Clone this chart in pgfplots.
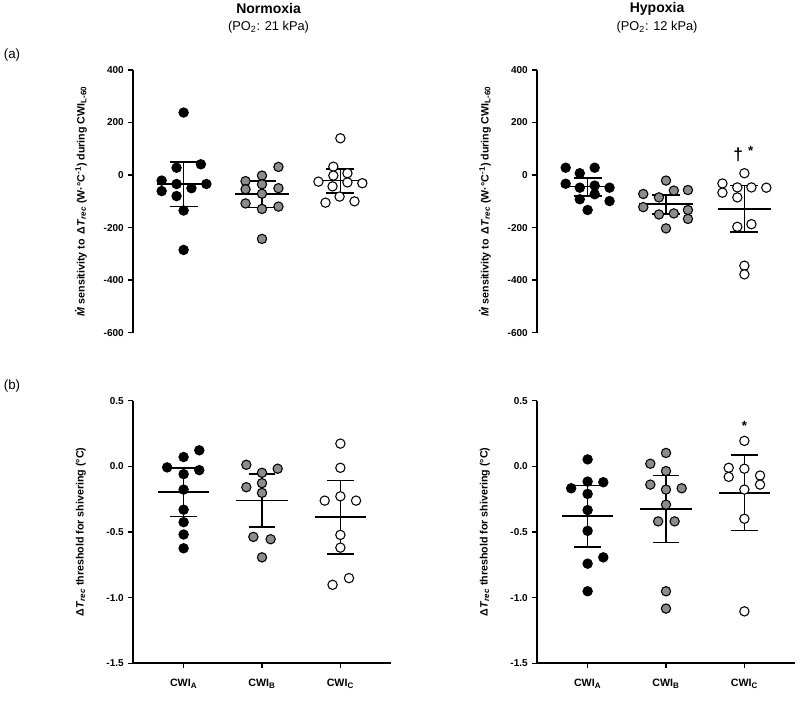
\documentclass[border=0pt]{standalone}
\usepackage{fontspec}
\setmainfont{Liberation Sans}
\usepackage{pgfplots}
\pgfplotsset{compat=1.18}

\newcommand{\Mdot}{\makebox[0pt][l]{\hspace{0.4em}\raisebox{0.74em}{.}}\textit{M}}

\pgfplotsset{
  panel/.style={
    scale only axis, width=194pt, height=197pt,
    xmin=0.35, xmax=3.65, enlargelimits=false, clip=false,
    axis y line*=left,
    axis line style={-, line width=1.5pt},
    tick style={line width=1.2pt, black},
    tick align=outside, major tick length=3.2pt,
    ticklabel style={font=\bfseries\fontsize{7.5}{8}\selectfont},
    every axis y label/.style={at={(axis description cs:-0.2,0.5)}, rotate=90, anchor=center,
      font=\bfseries\fontsize{8}{9}\selectfont},
  },
  toppanel/.style={panel, axis x line=none,
    ymin=-600, ymax=400, ytick={-600,-400,-200,0,200,400},
    yticklabels={-600,-400,-200,0,200,400},
    ylabel={\Mdot\ sensitivity to \,Δ\textit{T}\textsubscript{\textit{rec}} (W·°C\textsuperscript{-1}) during CWI\textsubscript{L-60}}},
  botpanel/.style={panel, axis x line*=bottom,
    ymin=-1.5, ymax=0.5, ytick={-1.5,-1,-0.5,0,0.5},
    yticklabels={-1.5,-1.0,-0.5,0.0,0.5},
    xtick={1,2,3}, xticklabels={CWI\textsubscript{A},CWI\textsubscript{B},CWI\textsubscript{C}},
    xticklabel style={yshift=-5pt, font=\bfseries\fontsize{8}{9}\selectfont},
    ylabel={Δ\textit{T}\textsubscript{\textit{rec}} threshold for shivering (°C)}},
  dblack/.style={only marks, mark=*, mark size=3.5pt, mark options={draw=black, fill=black, line width=0.8pt}},
  dgray/.style={only marks, mark=*, mark size=3.5pt, mark options={draw=black, fill=gray!90, line width=0.8pt}},
  dwhite/.style={only marks, mark=*, mark size=3.5pt, mark options={draw=black, fill=white, line width=0.8pt}},
  bars/.style={black, line width=1.3pt, no marks, unbounded coords=jump},
}

\begin{document}
\begin{tikzpicture}
\useasboundingbox (0,0) rectangle (600pt,-525.75pt);

% titles
\node[font=\bfseries\fontsize{10.5}{12}\selectfont] at (201.4pt,-6.5pt) {Normoxia};
\node[font=\fontsize{9.6}{11}\selectfont] at (201.4pt,-20.5pt) {(PO\textsubscript{2}: 21 kPa)};
\node[font=\bfseries\fontsize{10.5}{12}\selectfont] at (492.8pt,-6.5pt) {Hypoxia};
\node[font=\fontsize{9.6}{11}\selectfont] at (492.8pt,-20.5pt) {(PO\textsubscript{2}: 12 kPa)};
\node[font=\fontsize{10}{12}\selectfont] at (9pt,-41.3pt) {(a)};
\node[font=\fontsize{10}{12}\selectfont] at (9pt,-289.5pt) {(b)};

% (a) normoxia
\begin{axis}[toppanel, at={(99.5pt,-249.5pt)}, anchor=south west]
\addplot[dblack] coordinates {(1.00,238) (1.22,41) (0.91,28) (0.72,-21) (0.72,-61) (0.91,-34) (1.10,-50) (1.29,-34) (0.91,-80) (1.00,-135) (1.00,-285)};
\addplot[dgray] coordinates {(2.21,31) (2.00,-2) (1.79,-23) (2.00,-35) (1.79,-54) (2.21,-50) (2.00,-71) (1.79,-108) (2.21,-120) (2.00,-129) (2.00,-243)};
\addplot[dwhite] coordinates {(3.00,140) (2.91,32) (2.91,-2) (3.09,7) (2.72,-25) (2.90,-43) (3.09,-28) (3.28,-31) (2.99,-82) (2.81,-105) (3.18,-100)};
\addplot[bars] coordinates {
(0.66,-35) (1.34,-35) (1,nan) (0.82,50) (1.18,50) (1,nan) (0.82,-120) (1.18,-120) (1,nan) (1,50) (1,-120) (1,nan)
(1.66,-72) (2.34,-72) (2,nan) (1.82,-23) (2.18,-23) (2,nan) (1.82,-123) (2.18,-123) (2,nan) (2,-23) (2,-123) (2,nan)
(2.66,-21) (3.34,-21) (3,nan) (2.82,24) (3.18,24) (3,nan) (2.82,-67) (3.18,-67) (3,nan) (3,24) (3,-67)};
\end{axis}

% (a) hypoxia
\begin{axis}[toppanel, at={(402.5pt,-249.5pt)}, anchor=south west]
\addplot[dblack] coordinates {(0.72,28) (1.09,28) (0.90,7) (0.72,-33) (0.90,-48) (1.09,-40) (1.28,-48) (1.09,-73) (0.90,-92) (1.28,-99) (1.00,-133)};
\addplot[dgray] coordinates {(2.00,-21) (1.71,-72) (2.10,-59) (2.28,-57) (1.91,-85) (1.71,-122) (2.28,-133) (1.91,-150) (2.10,-146) (2.28,-167) (2.00,-203)};
\addplot[dwhite] coordinates {(3.00,7) (2.72,-32) (2.72,-67) (2.91,-47) (3.09,-47) (3.28,-48) (2.91,-85) (2.91,-197) (3.09,-187) (3.00,-345) (3.00,-378)};
\addplot[bars] coordinates {
(0.66,-44) (1.34,-44) (1,nan) (0.82,-11) (1.18,-11) (1,nan) (0.82,-80) (1.18,-80) (1,nan) (1,-11) (1,-80) (1,nan)
(1.66,-110) (2.34,-110) (2,nan) (1.82,-75) (2.18,-75) (2,nan) (1.82,-147) (2.18,-147) (2,nan) (2,-75) (2,-147) (2,nan)
(2.66,-129) (3.34,-129) (3,nan) (2.82,-40) (3.18,-40) (3,nan) (2.82,-218) (3.18,-218) (3,nan) (3,-40) (3,-218)};
\node[font=\bfseries\fontsize{13}{14}\selectfont] at (axis cs:2.92,76) {†};
\node[font=\bfseries\fontsize{10}{12}\selectfont] at (axis cs:3.08,92) {*};
\end{axis}

% (b) normoxia
\begin{axis}[botpanel, at={(99.5pt,-497.5pt)}, anchor=south west]
\addplot[dblack] coordinates {(1.20,0.122) (1.00,0.071) (0.79,-0.008) (1.20,-0.029) (1.00,-0.059) (1.00,-0.177) (1.00,-0.330) (1.00,-0.425) (1.00,-0.519) (1.00,-0.624)};
\addplot[dgray] coordinates {(1.80,0.012) (2.20,-0.018) (2.00,-0.049) (2.00,-0.128) (1.80,-0.159) (2.00,-0.202) (1.89,-0.537) (2.11,-0.555) (2.00,-0.693)};
\addplot[dwhite] coordinates {(3.00,0.173) (3.00,-0.011) (2.80,-0.261) (3.00,-0.228) (3.20,-0.261) (3.00,-0.522) (3.00,-0.619) (3.11,-0.851) (2.90,-0.902)};
\addplot[bars] coordinates {
(0.67,-0.197) (1.33,-0.197) (1,nan) (0.83,-0.011) (1.17,-0.011) (1,nan) (0.83,-0.381) (1.17,-0.381) (1,nan) (1,-0.011) (1,-0.381) (1,nan)
(1.67,-0.261) (2.33,-0.261) (2,nan) (1.83,-0.057) (2.17,-0.057) (2,nan) (1.83,-0.460) (2.17,-0.460) (2,nan) (2,-0.057) (2,-0.460) (2,nan)
(2.67,-0.386) (3.33,-0.386) (3,nan) (2.83,-0.108) (3.17,-0.108) (3,nan) (2.83,-0.665) (3.17,-0.665) (3,nan) (3,-0.108) (3,-0.665)};
\end{axis}

% (b) hypoxia
\begin{axis}[botpanel, at={(402.5pt,-497.5pt)}, anchor=south west]
\addplot[dblack] coordinates {(1.00,0.053) (1.00,-0.116) (1.20,-0.121) (0.79,-0.167) (1.00,-0.210) (1.00,-0.333) (1.00,-0.491) (1.20,-0.693) (1.00,-0.741) (1.00,-0.951)};
\addplot[dgray] coordinates {(2.00,0.102) (1.80,0.020) (2.00,-0.036) (1.80,-0.139) (2.20,-0.167) (2.00,-0.177) (2.00,-0.292) (1.90,-0.419) (2.11,-0.419) (2.00,-0.951) (2.00,-1.083)};
\addplot[dwhite] coordinates {(3.00,0.194) (2.80,-0.011) (3.00,-0.018) (2.80,-0.080) (3.20,-0.070) (3.20,-0.139) (3.00,-0.177) (3.00,-0.399) (3.00,-1.104)};
\addplot[bars] coordinates {
(0.67,-0.376) (1.33,-0.376) (1,nan) (0.83,-0.146) (1.17,-0.146) (1,nan) (0.83,-0.614) (1.17,-0.614) (1,nan) (1,-0.146) (1,-0.614) (1,nan)
(1.67,-0.325) (2.33,-0.325) (2,nan) (1.83,-0.070) (2.17,-0.070) (2,nan) (1.83,-0.580) (2.17,-0.580) (2,nan) (2,-0.070) (2,-0.580) (2,nan)
(2.67,-0.202) (3.33,-0.202) (3,nan) (2.83,0.084) (3.17,0.084) (3,nan) (2.83,-0.488) (3.17,-0.488) (3,nan) (3,0.084) (3,-0.488)};
\node[font=\bfseries\fontsize{10}{12}\selectfont] at (axis cs:3,0.31) {*};
\end{axis}
\end{tikzpicture}
\end{document}
